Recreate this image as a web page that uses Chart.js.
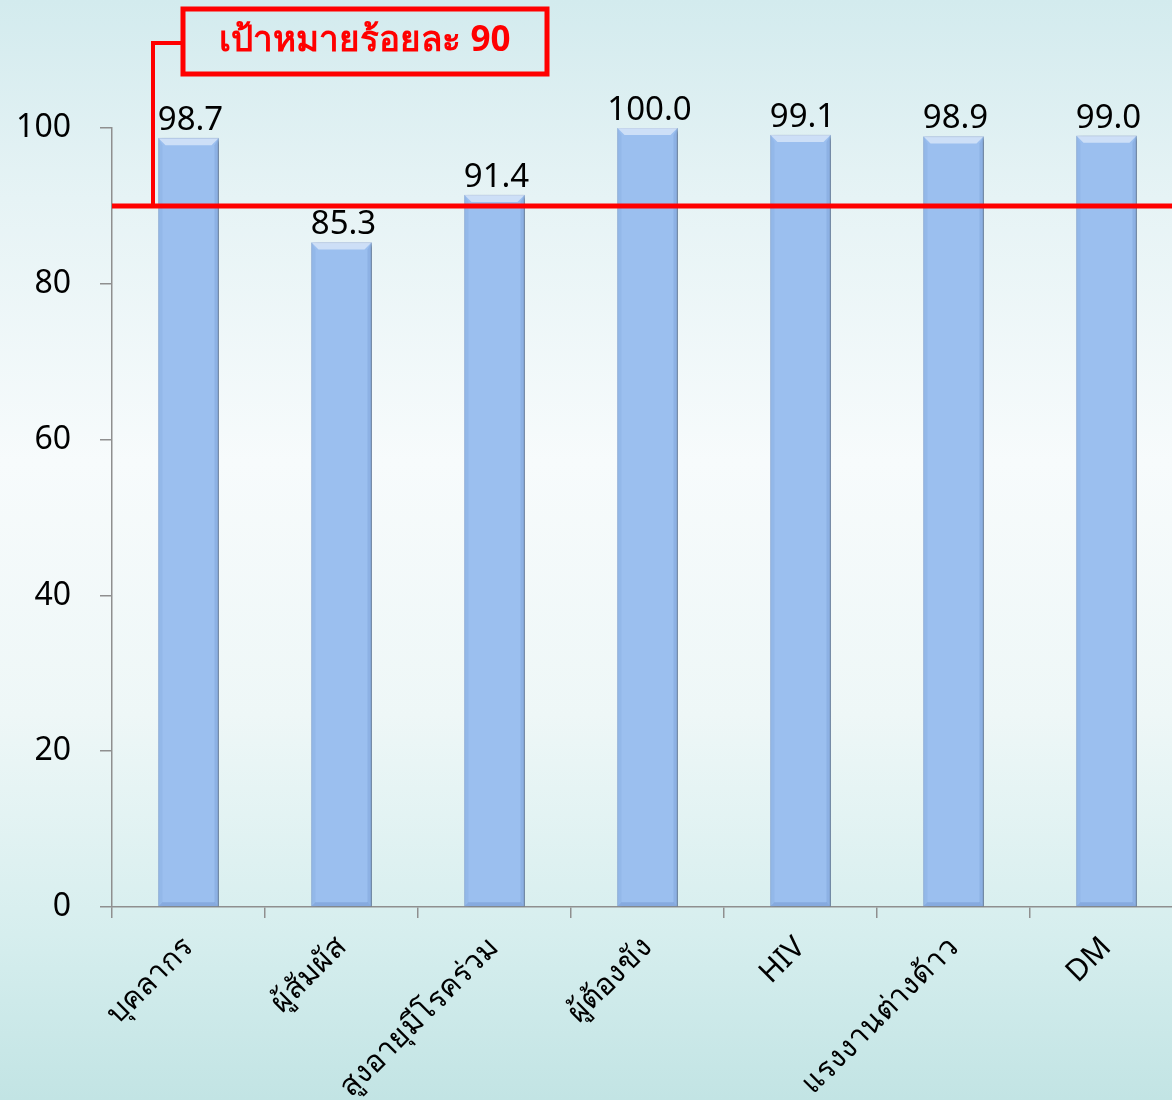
<!DOCTYPE html>
<html>
<head>
<meta charset="utf-8">
<script src="https://cdn.jsdelivr.net/npm/chart.js@4/dist/chart.umd.min.js"></script>
<style>
  html, body { margin: 0; padding: 0; overflow: hidden; }
  body {
    width: 1172px; height: 1100px;
    background: linear-gradient(to bottom, #d3ebee 0%, #e6f3f5 18%, #f7fbfc 42%, #eef7f7 65%, #d6eeee 85%, #c2e4e4 100%);
  }
  canvas { display: block; }
</style>
</head>
<body>
<canvas id="chart" width="1190" height="1100"></canvas>
<script>
// กลุ่มเป้าหมาย
const categories = ["บุคลากร", "ผู้สัมผัส", "สูงอายุมีโรคร่วม", "ผู้ต้องขัง", "HIV", "แรงงานต่างด้าว", "DM"];
// ร้อยละ
const values = [98.7, 85.3, 91.4, 100.0, 99.1, 98.9, 99.0];
// แกน y
const yMin = 0;
const yMax = 100;
const yStep = 20;
// เป้าหมาย
const targetValue = 90;
const targetText = "เป้าหมายร้อยละ 90";

const FONT = "'Noto Sans', 'Open Sans', sans-serif";
const RED = "#ff0000";
const AXIS = "#8f8f8f";

// bevel, ค่าบนแท่ง, เส้นเป้าหมาย
const overlay = {
  id: "overlay",
  beforeDatasetsDraw(chart) {
    const ctx = chart.ctx;
    ctx.save();
    ctx.shadowColor = "rgba(0,0,0,0.35)";
    ctx.shadowOffsetX = 3;
    ctx.shadowOffsetY = 2;
    ctx.shadowBlur = 4;
  },
  afterDatasetsDraw(chart) {
    const ctx = chart.ctx;
    ctx.restore();

    const meta = chart.getDatasetMeta(0);
    meta.data.forEach((bar, i) => {
      const { x, y, base, width } = bar.getProps(["x", "y", "base", "width"], true);
      const l = x - width / 2, r = x + width / 2, b = 7;
      ctx.save();
      // top bevel
      ctx.fillStyle = "rgba(255,255,255,0.5)";
      ctx.beginPath();
      ctx.moveTo(l, y); ctx.lineTo(r, y); ctx.lineTo(r - b, y + b); ctx.lineTo(l + b, y + b);
      ctx.closePath(); ctx.fill();
      // side shading
      ctx.fillStyle = "rgba(40,80,150,0.06)";
      ctx.beginPath();
      ctx.moveTo(l, y); ctx.lineTo(l + 4, y + b); ctx.lineTo(l + 4, base - 4); ctx.lineTo(l, base);
      ctx.closePath(); ctx.fill();
      ctx.fillStyle = "rgba(40,80,150,0.12)";
      ctx.beginPath();
      ctx.moveTo(r, y); ctx.lineTo(r - 4, y + b); ctx.lineTo(r - 4, base - 4); ctx.lineTo(r, base);
      ctx.closePath(); ctx.fill();
      ctx.fillStyle = "rgba(40,80,150,0.18)";
      ctx.beginPath();
      ctx.moveTo(l, base); ctx.lineTo(l + 4, base - 4); ctx.lineTo(r - 4, base - 4); ctx.lineTo(r, base);
      ctx.closePath(); ctx.fill();
      // value label
      ctx.fillStyle = "#000";
      ctx.font = "33px " + FONT;
      ctx.textAlign = "center";
      ctx.textBaseline = "bottom";
      ctx.fillText(values[i].toFixed(1), x + 2, y - 1);
      ctx.restore();
    });

    // target line
    const area = chart.chartArea;
    const ty = chart.scales.y.getPixelForValue(targetValue);
    const cx = area.left + 41;
    const box = { x: 183, y: 9, w: 364, h: 65 };
    ctx.save();
    ctx.strokeStyle = RED;
    ctx.lineWidth = 4;
    ctx.beginPath();
    ctx.moveTo(cx, ty);
    ctx.lineTo(cx, 43);
    ctx.lineTo(box.x, 43);
    ctx.stroke();
    ctx.lineWidth = 5;
    ctx.beginPath();
    ctx.moveTo(area.left, ty);
    ctx.lineTo(chart.width, ty);
    ctx.stroke();
    ctx.strokeRect(box.x, box.y, box.w, box.h);
    ctx.fillStyle = RED;
    ctx.font = "bold 35px " + FONT;
    ctx.textAlign = "center";
    ctx.textBaseline = "middle";
    ctx.fillText(targetText, box.x + box.w / 2, box.y + box.h / 2);
    ctx.restore();
  }
};

new Chart(document.getElementById("chart"), {
  type: "bar",
  data: {
    labels: categories,
    datasets: [{
      data: values,
      backgroundColor: "#9bbfef",
      borderColor: "#8aabdb",
      borderWidth: 1,
      barThickness: 60
    }]
  },
  options: {
    responsive: false,
    animation: false,
    layout: { padding: { top: 128, right: 7, left: 0, bottom: 0 } },
    plugins: { legend: { display: false }, tooltip: { enabled: false } },
    scales: {
      x: {
        afterFit: s => { s.height = 193; },
        border: { display: true, color: AXIS, width: 1.5 },
        grid: { display: true, drawOnChartArea: false, drawTicks: true, tickLength: 11, color: AXIS, lineWidth: 1.5, offset: true },
        ticks: { color: "#000", font: { size: 30, family: FONT }, minRotation: 45, maxRotation: 45, padding: 12, autoSkip: false }
      },
      y: {
        min: yMin,
        max: yMax,
        afterFit: s => { s.width = 112; },
        border: { display: true, color: AXIS, width: 1.5 },
        grid: { display: true, drawOnChartArea: false, drawTicks: true, tickLength: 12, color: AXIS, lineWidth: 1.5 },
        ticks: { stepSize: yStep, color: "#000", font: { size: 32, family: FONT }, padding: 29 }
      }
    }
  },
  plugins: [overlay]
});
</script>
</body>
</html>
